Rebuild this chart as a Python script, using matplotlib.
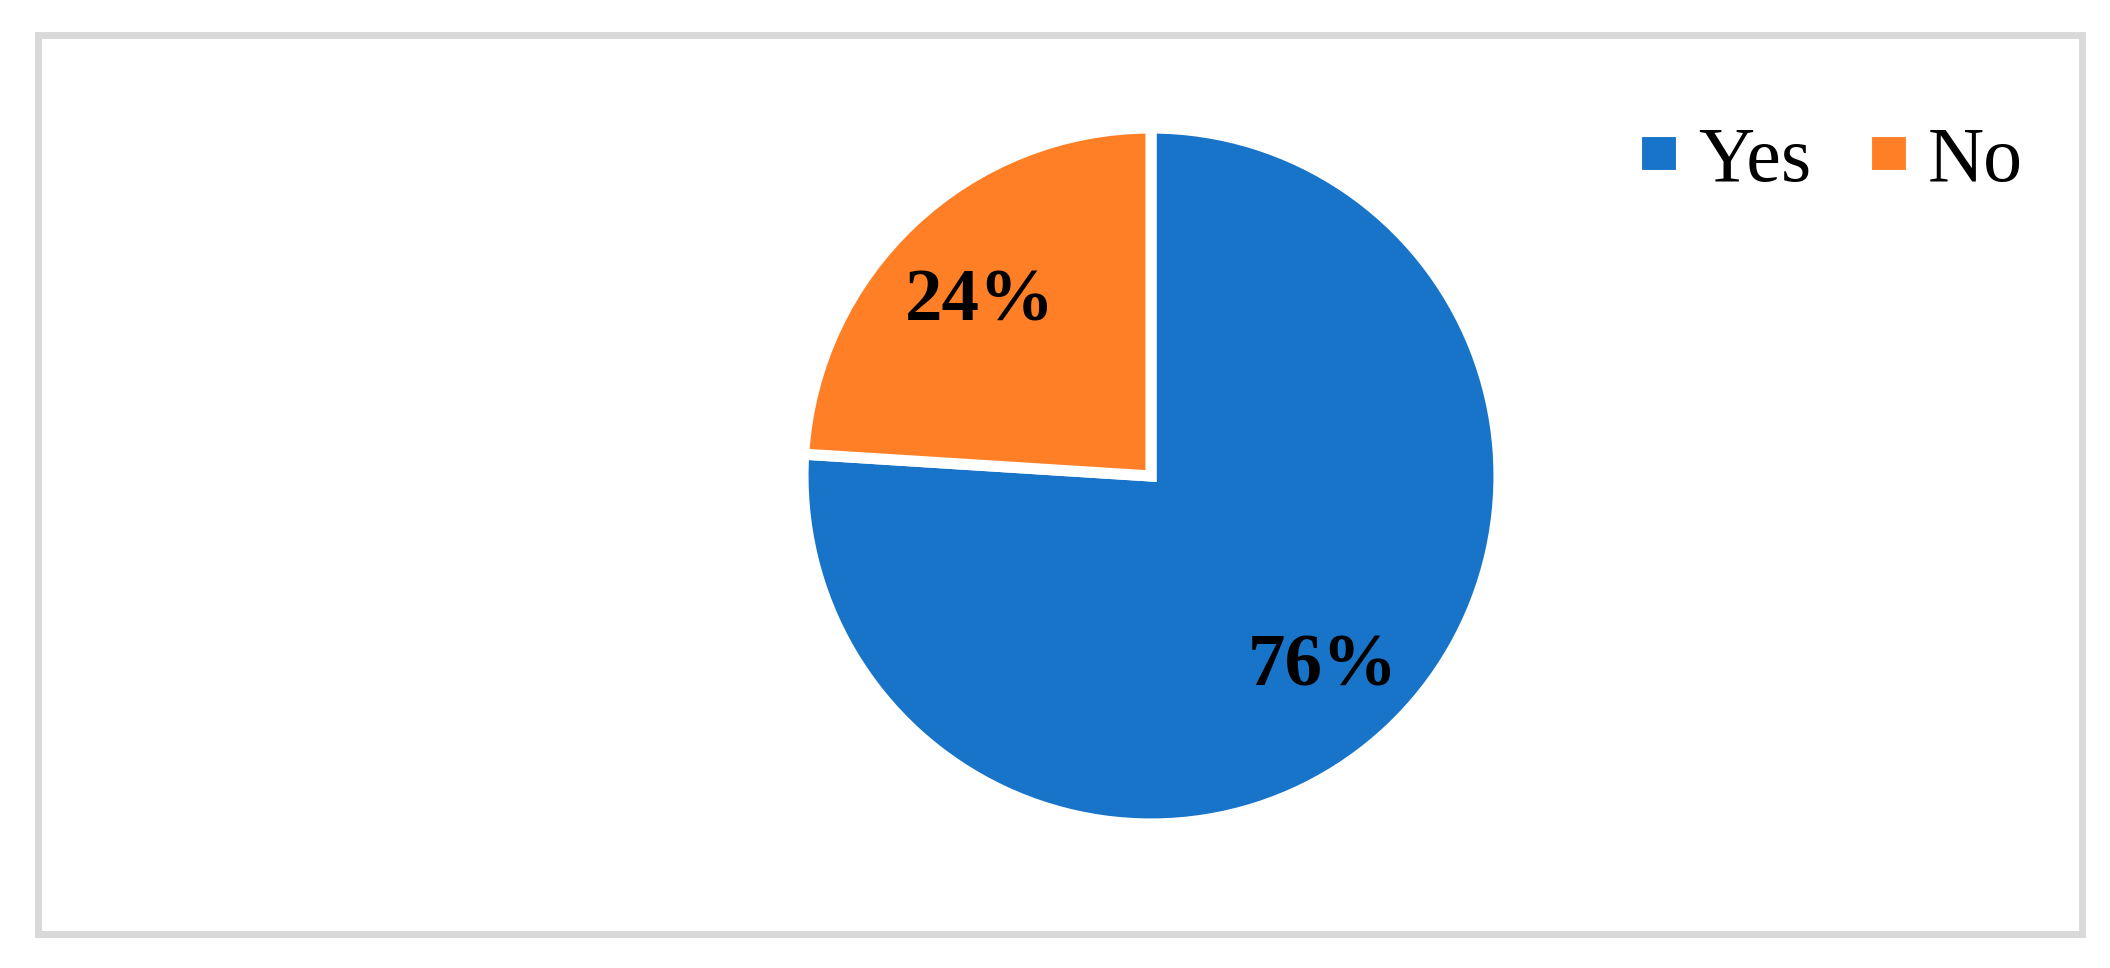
import matplotlib.pyplot as plt
import matplotlib.transforms as mtransforms
from matplotlib.patches import Rectangle

labels = ['Yes', 'No']
shares = [76, 24]
colors = ['#1874C8', '#FF7F27']

W, H = 2110, 968
plt.rcParams['font.family'] = ['Liberation Serif', 'DejaVu Serif']
fig = plt.figure(figsize=(W / 100, H / 100), dpi=100)

# outer light grey frame
fig.patches.append(Rectangle((37.5 / W, 1 - 933.5 / H), (2081.5 - 37.5) / W, (933.5 - 35) / H,
                             transform=fig.transFigure, fill=False,
                             edgecolor='#d9d9d9', linewidth=5.0))

cx, cy, r = 1151, 476, 348
ax = fig.add_axes([(cx - r) / W, (H - cy - r) / H, 2 * r / W, 2 * r / H])
wedges, texts, autotexts = ax.pie(shares, colors=colors, startangle=90, counterclock=False,
                                  autopct='%d%%', pctdistance=0.72,
                                  wedgeprops=dict(edgecolor='white', linewidth=8),
                                  textprops=dict(fontsize=54, fontweight='bold', color='black'))
shift = mtransforms.ScaledTranslation(0, -9 / 100, fig.dpi_scale_trans)
for t in autotexts:
    t.set_transform(t.get_transform() + shift)
ax.set_xlim(-1, 1)
ax.set_ylim(-1, 1)
ax.set_aspect('equal')
ax.axis('off')

fig.legend(wedges, labels, loc='center left', bbox_to_anchor=(1636 / W, 1 - 162 / H),
           ncol=2, frameon=False, fontsize=56, handlelength=0.58, handleheight=0.5,
           handletextpad=0.22, columnspacing=0.7, borderpad=0, borderaxespad=0)

fig.savefig('out.png', dpi=100)
